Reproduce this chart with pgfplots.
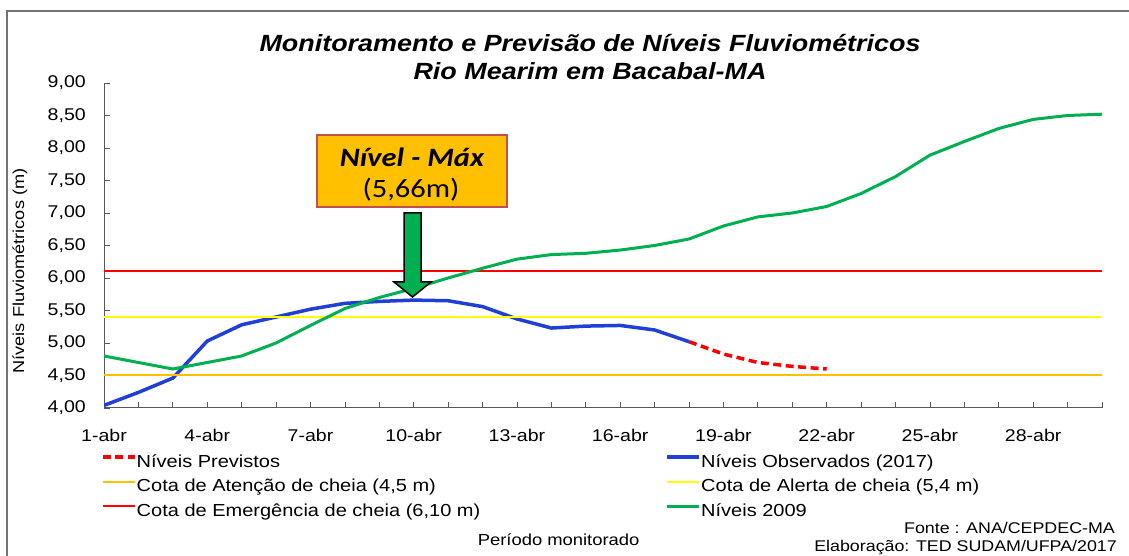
\documentclass[border=0pt]{standalone}
\usepackage{fontspec}
\setmainfont{Liberation Sans}[FakeStretch=1.15]
\newfontfamily\boxfont{Carlito}[FakeStretch=1.15]
\usepackage{pgfplots}
\pgfplotsset{compat=1.18}
\definecolor{obsblue}{HTML}{1F3FD6}
\definecolor{g09}{HTML}{00B050}
\definecolor{orng}{HTML}{FFC000}
\definecolor{yel}{HTML}{FFFF00}
\definecolor{rd}{HTML}{FF0000}
\definecolor{boxborder}{HTML}{C0504D}
\begin{document}
\begin{tikzpicture}[x=1pt,y=1pt]
\path[use as bounding box] (0,0) rectangle (1129,556);
\draw[black!55, line width=1.5pt] (7,0) -- (7,545) -- (1129,545);
\begin{axis}[
  at={(104pt,148pt)}, anchor=south west,
  scale only axis, width=998pt, height=325pt,
  xmin=1, xmax=30, ymin=4, ymax=9,
  axis lines*=left,
  axis line style={black!65, line width=1pt},
  tick align=inside,
  major tick length=6pt,
  tick style={black!65, line width=0.8pt},
  xtick={1,...,30},
  xticklabels={1-abr,,,4-abr,,,7-abr,,,10-abr,,,13-abr,,,16-abr,,,19-abr,,,22-abr,,,25-abr,,,28-abr,,},
  ytick={4,4.5,5,5.5,6,6.5,7,7.5,8,8.5,9},
  /pgf/number format/.cd, use comma, fixed, fixed zerofill, precision=2, assume math mode=true,
  /pgfplots/.cd,
  ticklabel style={font=\fontsize{17}{20}\selectfont, inner sep=0pt},
  xticklabel style={anchor=center, yshift=-27pt},
  yticklabel style={anchor=east, xshift=-18pt},
  ylabel={Níveis Fluviométricos (m)},
  every axis y label/.style={at={(axis description cs:-0.0842,0.4215)}, rotate=90, anchor=center, font=\fontsize{15.8}{18}\selectfont},
  xlabel={Período monitorado},
  every axis x label/.style={at={(axis description cs:0.4555,-0.406)}, anchor=center, font=\fontsize{16}{18}\selectfont},
  title={Monitoramento e Previsão de Níveis Fluviométricos\\Rio Mearim em Bacabal-MA},
  every axis title/.style={at={(axis description cs:0.487,1.08)}, anchor=center, align=center, font=\fontsize{23.4}{28}\selectfont\bfseries\itshape},
  legend columns=2,
  legend cell align=left,
  legend style={at={(axis description cs:-0.003,-0.144)}, anchor=north west, draw=none, fill=none, inner sep=0pt, row sep=8pt, column sep=0pt, nodes={inner sep=0pt, text height=12.5pt, text depth=4pt}, font=\fontsize{17.4}{20}\selectfont},
  legend image code/.code={\draw[#1] (0pt,6pt) -- (32pt,6pt);},
]
\addplot[rd, line width=3.5pt, dash pattern=on 8pt off 4.5pt] coordinates {
(18,5.02) (19,4.83) (20,4.70) (21,4.64) (22,4.60)};
\addlegendentry{\makebox[529pt][l]{Níveis Previstos}}
\addplot[obsblue, line width=3.5pt] coordinates {
(1,4.04) (2,4.24) (3,4.46) (4,5.03) (5,5.28) (6,5.40) (7,5.52) (8,5.61) (9,5.64) (10,5.66)
(11,5.65) (12,5.56) (13,5.37) (14,5.23) (15,5.26) (16,5.27) (17,5.20) (18,5.02)};
\addlegendentry{Níveis Observados (2017)}
\addplot[orng, line width=2pt] coordinates {(1,4.5) (30,4.5)};
\addlegendentry{\makebox[529pt][l]{Cota de Atenção de cheia (4,5 m)}}
\addplot[yel, line width=2pt] coordinates {(1,5.4) (30,5.4)};
\addlegendentry{Cota de Alerta de cheia (5,4 m)}
\addplot[rd, line width=2pt] coordinates {(1,6.1) (30,6.1)};
\addlegendentry{\makebox[529pt][l]{Cota de Emergência de cheia (6,10 m)}}
\addplot[g09, line width=3pt] coordinates {
(1,4.80) (2,4.70) (3,4.60) (4,4.70) (5,4.80) (6,5.00) (7,5.27) (8,5.53) (9,5.70) (10,5.84)
(11,6.00) (12,6.15) (13,6.29) (14,6.36) (15,6.38) (16,6.43) (17,6.50) (18,6.60) (19,6.80) (20,6.94)
(21,7.00) (22,7.10) (23,7.30) (24,7.56) (25,7.89) (26,8.10) (27,8.30) (28,8.44) (29,8.50) (30,8.52)};
\addlegendentry{Níveis 2009}
\end{axis}
\node[draw=boxborder, line width=2pt, fill=orng, minimum width=190pt, minimum height=72pt, inner sep=0pt] at (412,385) {};
\node[font=\boxfont\bfseries\itshape\fontsize{26.5}{30}\selectfont, inner sep=0pt] at (412,399) {Nível - Máx};
\node[font=\boxfont\fontsize{26.5}{30}\selectfont, inner sep=0pt] at (411,366) {(5,66m)};
\draw[black, line width=1.5pt, fill=g09] (404,343) -- (421,343) -- (421,274) -- (431,274) -- (412.5,259) -- (394,274) -- (404,274) -- cycle;
\node[anchor=east, font=\fontsize{15.5}{18}\selectfont, inner sep=0pt] at (1115,28) {Fonte : ANA/CEPDEC-MA};
\node[anchor=east, font=\fontsize{15.5}{18}\selectfont, inner sep=0pt] at (1117,8) {Elaboração: TED SUDAM/UFPA/2017};
\end{tikzpicture}
\end{document}
